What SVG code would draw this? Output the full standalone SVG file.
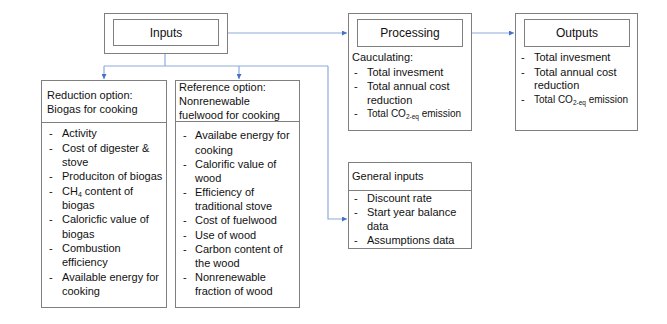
<svg xmlns="http://www.w3.org/2000/svg" width="667" height="324" viewBox="0 0 667 324">
<defs>
<style>
.box{fill:#fff;stroke:#7f7f7f;stroke-width:1}
.ln{fill:none;stroke:#7f7f7f;stroke-width:1}
.t{font-family:"Liberation Sans",Arial,sans-serif;font-size:11px;fill:#111}
.c{text-anchor:middle}
.sub{font-size:7px}
.em{font-size:10px}
.em .sub{font-size:6.5px}
.con{fill:none;stroke:#8faadc;stroke-width:1.2}
</style>
<marker id="ah" viewBox="0 0 6 6" refX="6" refY="3" markerWidth="5" markerHeight="5" orient="auto" markerUnits="userSpaceOnUse">
<path d="M0,0 L6,3 L0,6 Z" fill="#4472c4"/>
</marker>
</defs>
<rect width="667" height="324" fill="#fff"/>
<g id="connectors">
<path class="con" d="M227,33 H347" marker-end="url(#ah)"/>
<path class="con" d="M471,33 H514" marker-end="url(#ah)"/>
<path class="con" d="M165,53 V66"/>
<path class="con" d="M104,66 H328"/>
<path class="con" d="M104,66 V79" marker-end="url(#ah)"/>
<path class="con" d="M239,66 V79" marker-end="url(#ah)"/>
<path class="con" d="M328,66 V219 H347" marker-end="url(#ah)"/>
</g>
<g id="inputs">
<rect class="box" x="104.5" y="13.5" width="123" height="40"/>
<rect class="box" x="113.5" y="19.5" width="105" height="26"/>
<text class="t c" x="166" y="37" style="font-size:12px">Inputs</text>
</g>
<g id="processing">
<rect class="box" x="348.5" y="13.5" width="123" height="117"/>
<rect class="box" x="357.5" y="19.5" width="105" height="27"/>
<text class="t c" x="410" y="37" style="font-size:12px">Processing</text>
<text class="t" x="352" y="61">Cauculating:</text>
<text class="t" x="354" y="76">-</text><text class="t" x="367" y="76">Total invesment</text>
<text class="t" x="354" y="90">-</text><text class="t" x="367" y="90">Total annual cost</text>
<text class="t" x="367" y="104">reduction</text>
<text class="t" x="354" y="117">-</text><text class="t em" x="367" y="117">Total CO<tspan class="sub" dy="2">2-eq</tspan><tspan dy="-2"> emission</tspan></text>
</g>
<g id="outputs">
<rect class="box" x="515.5" y="13.5" width="122" height="117"/>
<rect class="box" x="524.5" y="19.5" width="105" height="27"/>
<text class="t c" x="577" y="37" style="font-size:12px">Outputs</text>
<text class="t" x="521" y="61">-</text><text class="t" x="534" y="61">Total invesment</text>
<text class="t" x="521" y="76">-</text><text class="t" x="534" y="76">Total annual cost</text>
<text class="t" x="534" y="89">reduction</text>
<text class="t" x="521" y="103">-</text><text class="t em" x="534" y="103">Total CO<tspan class="sub" dy="2">2-eq</tspan><tspan dy="-2"> emission</tspan></text>
</g>
<g id="general-inputs">
<rect class="box" x="348.5" y="162.5" width="123" height="86"/>
<line class="ln" x1="348.5" y1="190.5" x2="471.5" y2="190.5"/>
<text class="t" x="352" y="180">General inputs</text>
<text class="t" x="354" y="202">-</text><text class="t" x="367" y="202">Discount rate</text>
<text class="t" x="354" y="216">-</text><text class="t" x="367" y="216">Start year balance</text>
<text class="t" x="367" y="230">data</text>
<text class="t" x="354" y="244">-</text><text class="t" x="367" y="244">Assumptions data</text>
</g>
<g id="reduction-option">
<rect class="box" x="41.5" y="80.5" width="125" height="227"/>
<line class="ln" x1="41.5" y1="122.5" x2="166.5" y2="122.5"/>
<text class="t" x="47" y="99">Reduction option:</text>
<text class="t" x="47" y="113">Biogas for cooking</text>
<text class="t" x="49" y="137">-</text><text class="t" x="62" y="137">Activity</text>
<text class="t" x="49" y="152">-</text><text class="t" x="62" y="152">Cost of digester &amp;</text>
<text class="t" x="62" y="166">stove</text>
<text class="t" x="49" y="180">-</text><text class="t" x="62" y="180">Produciton of biogas</text>
<text class="t" x="49" y="195">-</text><text class="t" x="62" y="195">CH<tspan class="sub" dy="2">4</tspan><tspan dy="-2"> content of</tspan></text>
<text class="t" x="62" y="209">biogas</text>
<text class="t" x="49" y="223">-</text><text class="t" x="62" y="223">Caloricfic value of</text>
<text class="t" x="62" y="238">biogas</text>
<text class="t" x="49" y="252">-</text><text class="t" x="62" y="252">Combustion</text>
<text class="t" x="62" y="266">efficiency</text>
<text class="t" x="49" y="281">-</text><text class="t" x="62" y="281">Available energy for</text>
<text class="t" x="62" y="295">cooking</text>
</g>
<g id="reference-option">
<rect class="box" x="175.5" y="80.5" width="124" height="227"/>
<line class="ln" x1="175.5" y1="121.5" x2="299.5" y2="121.5"/>
<text class="t" x="179" y="91">Reference option:</text>
<text class="t" x="179" y="105">Nonrenewable</text>
<text class="t" x="179" y="119">fuelwood for cooking</text>
<text class="t" x="183" y="139">-</text><text class="t" x="195" y="139">Availabe energy for</text>
<text class="t" x="195" y="154">cooking</text>
<text class="t" x="183" y="168">-</text><text class="t" x="195" y="168">Calorific value of</text>
<text class="t" x="195" y="182">wood</text>
<text class="t" x="183" y="196">-</text><text class="t" x="195" y="196">Efficiency of</text>
<text class="t" x="195" y="210">traditional stove</text>
<text class="t" x="183" y="224">-</text><text class="t" x="195" y="224">Cost of fuelwood</text>
<text class="t" x="183" y="239">-</text><text class="t" x="195" y="239">Use of wood</text>
<text class="t" x="183" y="253">-</text><text class="t" x="195" y="253">Carbon content of</text>
<text class="t" x="195" y="267">the wood</text>
<text class="t" x="183" y="281">-</text><text class="t" x="195" y="281">Nonrenewable</text>
<text class="t" x="195" y="295">fraction of wood</text>
</g>
</svg>
